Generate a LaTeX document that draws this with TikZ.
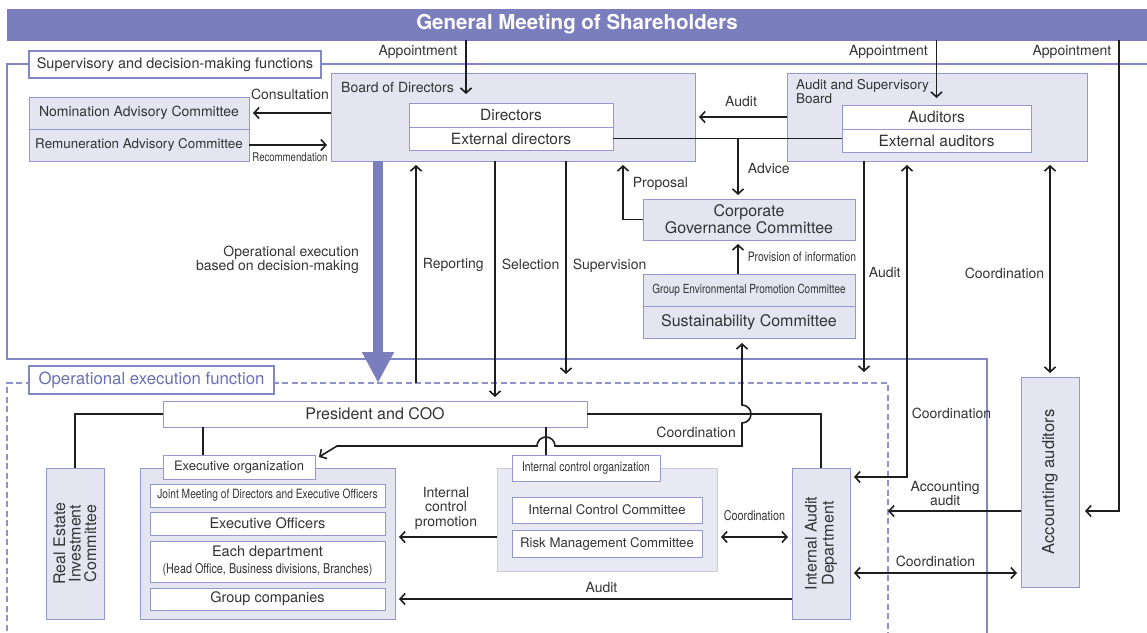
\documentclass[tikz,border=0pt]{standalone}
\usepackage{fontspec}
\setmainfont{TeX Gyre Heros}
\newfontfamily\narrowfont[FakeStretch=0.8]{TeX Gyre Heros}
\usepackage{tikz}
\usetikzlibrary{arrows.meta,positioning}
\definecolor{barra}{HTML}{7A7EBC}
\definecolor{linhaquadro}{HTML}{8287C6}
\definecolor{fundo}{HTML}{E5E5F2}
\definecolor{borda}{HTML}{9398CF}
\definecolor{fundoic}{HTML}{E9E9F4}
\definecolor{bordaic}{HTML}{C9CBE6}
\definecolor{texto}{HTML}{333333}
\definecolor{textoop}{HTML}{6B70B7}
\definecolor{seta}{HTML}{1E1E1E}
\newcommand{\fsz}[1]{\fontsize{#1}{#1}\selectfont}
\tikzset{
    caixa/.style={
        rectangle,
        draw=borda,
        fill=fundo,
        line width=1pt,
        inner sep=0pt,
        outer sep=0pt,
        align=center,
        text=texto
    },
    branca/.style={caixa, fill=white},
    titulo/.style={caixa, fill=white, draw=linhaquadro, line width=1.6pt},
    rotulo/.style={inner sep=1pt, text=texto, font=\fsz{14}, align=center},
    moldura/.style={draw=linhaquadro, line width=2pt},
    molduraop/.style={draw=linhaquadro!90, line width=1.6pt, dash pattern=on 6pt off 3.5pt},
    fluxo/.style={-{Straight Barb[length=5pt,width=11pt]}, draw=seta, line width=1.6pt, shorten >=4pt},
    fluxoduplo/.style={{Straight Barb[length=5pt,width=11pt]}-{Straight Barb[length=5pt,width=11pt]}, draw=seta, line width=1.6pt, shorten >=4pt, shorten <=4pt},
    ligacao/.style={draw=seta, line width=1.6pt},
    setagrande/.style={draw=barra, line width=10pt, -{Triangle[length=31pt,width=30pt]}}
}

\begin{document}
\begin{tikzpicture}[x=1pt, y=-1pt]
    \useasboundingbox (0,0) rectangle (1147,632);

    % frames
    \draw[moldura] (1147,64) -- (7,64) -- (7,359) -- (987,359) -- (987,640);
    \draw[molduraop] (7,640) -- (7,383) -- (888,383) -- (888,640);

    \node[caixa, fill=barra, draw=barra, minimum width=1140pt, minimum height=31pt, text=white, font=\bfseries\fsz{20.5}] (gm) at (577,24.5) {General Meeting of Shareholders};

    % supervisory side
    \node[caixa, minimum width=220pt, minimum height=32pt, font=\fsz{14}] (nom) at (139,113) {Nomination Advisory Committee};
    \node[caixa, minimum width=220pt, minimum height=32pt, font=\fsz{13.4}, below=0pt of nom] (rem) {Remuneration Advisory Committee};
    \node[caixa, minimum width=364pt, minimum height=88pt,
        label={[rotulo, anchor=north west, xshift=9pt, yshift=-8pt]north west:Board of Directors}] (bod) at (513,117) {};
    \node[branca, minimum width=204pt, minimum height=24pt, font=\fsz{15.5}] (dir) at (511,115) {Directors};
    \node[branca, minimum width=204pt, minimum height=23pt, font=\fsz{15.5}, below=0pt of dir] (extdir) {External directors};
    \node[caixa, minimum width=300pt, minimum height=88pt,
        label={[rotulo, anchor=north west, align=left, font=\fontsize{13.5}{14.5}\selectfont, xshift=8pt, yshift=-5pt]north west:Audit and Supervisory\\Board}] (asb) at (937,117) {};
    \node[branca, minimum width=189pt, minimum height=24pt, font=\fsz{15.5}] (aud) at (936.5,117) {Auditors};
    \node[branca, minimum width=189pt, minimum height=23pt, font=\fsz{15.5}, below=0pt of aud] (extaud) {External auditors};
    \node[caixa, minimum width=212pt, minimum height=41pt, font=\fontsize{16}{17}\selectfont] (cgc) at (749,219.5) {Corporate\\Governance Committee};
    \node[caixa, minimum width=212pt, minimum height=32pt, font=\narrowfont\fsz{12.5}] (gep) at (749,290) {Group Environmental Promotion Committee};
    \node[caixa, minimum width=212pt, minimum height=32pt, font=\fsz{16}, below=0pt of gep] (sust) {Sustainability Committee};

    % operational side
    \node[branca, minimum width=424pt, minimum height=26pt, font=\fsz{16}] (pres) at (375,414) {President and COO};
    \node[caixa, minimum width=58pt, minimum height=151pt,
        label={[rotulo, rotate=90, font=\fontsize{16}{15.5}\selectfont]center:Real Estate\\Investment\\Committee}] (rei) at (75,543.5) {};
    \node[caixa, minimum width=255pt, minimum height=151pt] (exr) at (267.5,543.5) {};
    \node[branca, minimum width=152pt, minimum height=24pt, font=\fsz{13}] (exlbl) at (239,467) {Executive organization};
    \node[branca, minimum width=235pt, minimum height=23pt, font=\narrowfont\fsz{12.8}] (jm) at (267.5,495.5) {Joint Meeting of Directors and Executive Officers};
    \node[branca, minimum width=235pt, minimum height=23pt, font=\fsz{14.5}, below=5pt of jm] (eo) {Executive Officers};
    \node[branca, minimum width=235pt, minimum height=41pt, font=\fontsize{14.5}{17}\selectfont, below=6pt of eo] (ed) {Each department\\{\narrowfont\fsz{13.5}(Head Office, Business divisions, Branches)}};
    \node[branca, minimum width=235pt, minimum height=22pt, font=\fsz{14.5}, below=6pt of ed] (gc) {Group companies};
    \node[caixa, fill=fundoic, draw=bordaic, minimum width=220pt, minimum height=103pt] (icr) at (607,519.5) {};
    \node[branca, minimum width=148pt, minimum height=26pt, font=\narrowfont\fsz{13}] (icolbl) at (586,468) {Internal control organization};
    \node[branca, minimum width=190pt, minimum height=26pt, font=\fsz{13.2}] (icc) at (607,510) {Internal Control Committee};
    \node[branca, minimum width=190pt, minimum height=27pt, font=\fsz{13.2}, below=7pt of icc] (rmc) {Risk Management Committee};
    \node[caixa, minimum width=58pt, minimum height=151pt,
        label={[rotulo, rotate=90, font=\fontsize{16}{17}\selectfont]center:Internal Audit\\Department}] (iad) at (821,543.5) {};
    \node[caixa, minimum width=58pt, minimum height=210pt,
        label={[rotulo, rotate=90, font=\fsz{16.5}]center:Accounting auditors}] (aa) at (1050,482) {};

    % coordinates for free ends and bends
    \coordinate (ap1) at (466,98);
    \coordinate (ap3) at (1119,511);
    \coordinate (adv) at (738,0);
    \coordinate (prp) at (623,0);
    \coordinate (rep) at (416,383);
    \coordinate (sel) at (495,0);
    \coordinate (sup1) at (566,374);
    \coordinate (aud1) at (864,372);
    \coordinate (co1) at (907,477);
    \coordinate (acc) at (888,511);
    \coordinate (co2) at (0,573);
    \coordinate (co3) at (0,537);
    \coordinate (au2) at (0,599);
    \coordinate (opx) at (378,383);
    \coordinate (exv) at (203,0);
    \coordinate (icv) at (546,0);
    \coordinate (jd) at (337,446);
    \coordinate (jx) at (742,446);
    \coordinate (jh) at (icv |- jx);
    \coordinate (jv) at (jx |- pres.east);
    \coordinate (ctip) at (319,457);

    \draw[setagrande] (opx |- bod.south) -- (opx);
    \node[rotulo, anchor=east, font=\fontsize{14}{14.5}\selectfont, align=right] (lopx) at (360,260) {Operational execution\\based on decision-making};

    % appointment
    \draw[fluxo] (ap1 |- gm.south) -- node[rotulo, pos=.2, left=7pt] {Appointment} (ap1);
    \draw[fluxo] (gm.south -| aud.north) -- node[rotulo, pos=.2, left=7pt] {Appointment} ([yshift=3pt]aud.north);
    \draw[fluxo, shorten >=6pt] (ap3 |- gm.south) -- node[rotulo, pos=.025, left=6pt] {Appointment} (ap3) -- (ap3 -| aa.east);

    % supervisory links
    \draw[fluxo] (bod.west |- nom.east) -- node[rotulo, above=11pt] {Consultation} (nom.east);
    \draw[fluxo] (rem.east) -- node[rotulo, below=6pt, font=\narrowfont\fsz{12}] {Recommendation} (rem.east -| bod.west);
    \draw[fluxo] (asb.west) -- node[rotulo, above=8pt] {Audit} (bod.east);
    \draw[ligacao] (extdir.east) -- (extdir.east -| extaud.west);
    \draw[fluxo] (adv |- extdir.east) -- node[rotulo, midway, right=8pt] {Advice} (adv |- cgc.north);
    \draw[fluxo] (cgc.west) -- (prp |- cgc.west) -- node[rotulo, pos=.6, right=8pt] {Proposal} (prp |- bod.south);
    \draw[fluxo] (adv |- gep.north) -- node[rotulo, midway, right=8pt, font=\narrowfont\fsz{13}] {Provision of information} (adv |- cgc.south);

    % between the two functions
    \draw[fluxo] (rep) -- node[rotulo, pos=.53, right=5pt] {Reporting} (rep |- bod.south);
    \draw[fluxo] (sel |- bod.south) -- node[rotulo, pos=.43, right=5pt] {Selection} (sel |- pres.north);
    \draw[fluxo, shorten >=0pt] (sup1 |- bod.south) -- node[rotulo, pos=.49, right=5pt] {Supervision} (sup1);
    \draw[fluxo, shorten >=0pt] (aud1 |- asb.south) -- node[rotulo, pos=.53, right=3pt] {Audit} (aud1);
    \draw[fluxoduplo] (co1 -| iad.east) -- (co1) -- node[rotulo, pos=.2, right=3pt] {Coordination} (co1 |- asb.south);
    \draw[fluxoduplo] (aa.north) -- node[rotulo, pos=.48, left=4pt] {Coordination} (aa.north |- asb.south);

    % operational links
    \draw[ligacao] (pres.west) -- (pres.west -| rei.north) -- (rei.north);
    \draw[ligacao] (pres.south -| exv) -- (exlbl.north -| exv);
    \draw[ligacao] (pres.south -| icv) -- (icolbl.north -| icv);
    \draw[ligacao] (pres.east) -- (pres.east -| iad.north) -- (iad.north);
    \draw[fluxoduplo, shorten <=0pt, shorten >=5pt] (ctip) -- (jd) -- ([xshift=-9pt]jh) arc[start angle=180, end angle=360, radius=9] -- (jx) -- ([yshift=-9pt]jv) arc[start angle=90, end angle=-90, radius=9] -- (jx |- sust.south);
    \node[rotulo, anchor=east] (lcoord) at (737,432) {Coordination};
    \draw[fluxo, shorten >=0pt] (acc -| aa.west) -- node[rotulo, pos=.57, above=3pt, font=\fontsize{14}{13}\selectfont] {Accounting\\audit} (acc);
    \draw[fluxoduplo] (co2 -| iad.east) -- node[rotulo, midway, above=4pt] {Coordination} (co2 -| aa.west);
    \draw[fluxoduplo] (co3 -| icr.east) -- node[rotulo, midway, above=14pt, font=\narrowfont\fsz{13.5}] {Coordination} (co3 -| iad.west);
    \draw[fluxo] (co3 -| icr.west) -- node[rotulo, midway, above=6pt, font=\fontsize{14}{14.5}\selectfont] {Internal\\control\\promotion} (co3 -| exr.east);
    \draw[fluxo] (au2 -| iad.west) -- node[rotulo, pos=.48, above=5pt] {Audit} (au2 -| exr.east);

    % frame titles
    \node[titulo, minimum width=292pt, minimum height=27pt, font=\fsz{14.5}] (supv) at (175,64.5) {Supervisory and decision-making functions};
    \node[titulo, minimum width=245pt, minimum height=28pt, font=\fsz{16.8}, text=textoop] (opfn) at (151.5,380) {Operational execution function};
\end{tikzpicture}
\end{document}
